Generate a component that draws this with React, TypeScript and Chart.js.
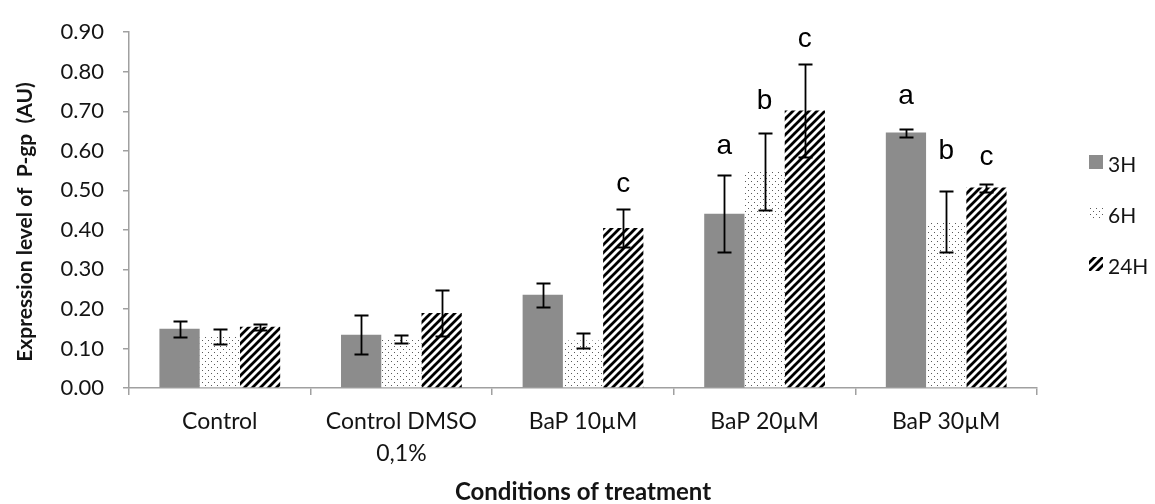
import { useEffect, useRef } from 'react';
import { Chart, registerables } from 'chart.js';
Chart.register(...registerables);

const categories: (string | string[])[] = ['Control', ['Control DMSO', '0,1%'], 'BaP 10µM', 'BaP 20µM', 'BaP 30µM'];
const seriesNames = ['3H', '6H', '24H'];
const values3H = [0.15, 0.135, 0.236, 0.441, 0.646];
const values6H = [0.13, 0.124, 0.12, 0.548, 0.421];
const values24H = [0.155, 0.19, 0.405, 0.702, 0.507];
const err3H = [0.02, 0.049, 0.03, 0.097, 0.01];
const err6H = [0.019, 0.011, 0.02, 0.098, 0.077];
const err24H = [0.008, 0.058, 0.049, 0.117, 0.01];
const letters3H = ['', '', '', 'a', 'a'];
const letters6H = ['', '', '', 'b', 'b'];
const letters24H = ['', '', 'c', 'c', 'c'];
const letterLevel3H = [0, 0, 0, 0.592, 0.719];
const letterLevel6H = [0, 0, 0, 0.706, 0.58];
const letterLevel24H = [0, 0, 0.497, 0.862, 0.563];
const yTicks = [0, 0.1, 0.2, 0.3, 0.4, 0.5, 0.6, 0.7, 0.8, 0.9];
const yTitle = 'Expression level of  P-gp  (AU)';
const xTitle = 'Conditions of treatment';

const allValues = [values3H, values6H, values24H];
const allErrs = [err3H, err6H, err24H];
const allLetters = [letters3H, letters6H, letters24H];
const allLetterLevels = [letterLevel3H, letterLevel6H, letterLevel24H];

function makeDots(ctx: CanvasRenderingContext2D) {
  const c = document.createElement('canvas');
  c.width = 6; c.height = 6;
  const x = c.getContext('2d')!;
  x.fillStyle = '#ffffff';
  x.fillRect(0, 0, 6, 6);
  x.fillStyle = '#5a5a5a';
  x.fillRect(1, 1, 1, 1);
  x.fillRect(4, 4, 1, 1);
  return ctx.createPattern(c, 'repeat')!;
}

function makeHatch(ctx: CanvasRenderingContext2D) {
  const s = 8;
  const c = document.createElement('canvas');
  c.width = s; c.height = s;
  const x = c.getContext('2d')!;
  x.fillStyle = '#ffffff';
  x.fillRect(0, 0, s, s);
  x.strokeStyle = '#000000';
  x.lineWidth = 2.8;
  x.lineCap = 'square';
  x.beginPath();
  x.moveTo(-1, s + 1); x.lineTo(s + 1, -1);
  x.moveTo(-1, 1); x.lineTo(1, -1);
  x.moveTo(s - 1, s + 1); x.lineTo(s + 1, s - 1);
  x.stroke();
  return ctx.createPattern(c, 'repeat')!;
}

export default function App() {
  const ref = useRef<HTMLCanvasElement>(null);
  useEffect(() => {
    document.body.style.margin = '0';
    const canvas = ref.current!;
    const ctx = canvas.getContext('2d')!;
    const fills: (string | CanvasPattern)[] = ['#8c8c8c', makeDots(ctx), makeHatch(ctx)];
    const axisColor = '#a0a0a0';
    const textColor = '#141414';

    const overlay = {
      id: 'overlay',
      afterDatasetsDraw(chart: any) {
        const c = chart.ctx as CanvasRenderingContext2D;
        const y = chart.scales.y;
        c.save();
        c.strokeStyle = '#000';
        c.lineWidth = 1.8;
        for (let i = 0; i < allValues.length; i++) {
          const meta = chart.getDatasetMeta(i);
          meta.data.forEach((bar: any, j: number) => {
            const v = allValues[i][j];
            const e = allErrs[i][j];
            const t = Math.round(y.getPixelForValue(v + e)) + 0.5;
            const b = Math.round(y.getPixelForValue(v - e)) + 0.5;
            const x = Math.round(bar.x) + 0.5;
            c.beginPath();
            c.moveTo(x, t); c.lineTo(x, b);
            c.moveTo(x - 7, t); c.lineTo(x + 7, t);
            c.moveTo(x - 7, b); c.lineTo(x + 7, b);
            c.stroke();
            const L = allLetters[i][j];
            if (L) {
              c.fillStyle = '#000';
              c.font = '28px "Liberation Sans", Arial, sans-serif';
              c.textAlign = 'center';
              c.textBaseline = 'alphabetic';
              c.fillText(L, bar.x, y.getPixelForValue(allLetterLevels[i][j]));
            }
          });
        }
        c.restore();
      },
      afterDraw(chart: any) {
        const c = chart.ctx as CanvasRenderingContext2D;
        c.save();
        c.fillStyle = textColor;
        c.font = 'bold 21px Lato, sans-serif';
        c.textAlign = 'center';
        c.textBaseline = 'middle';
        c.save();
        c.translate(25, 222);
        c.rotate(-Math.PI / 2);
        c.fillText(yTitle, 0, 0);
        c.restore();
        c.font = 'bold 24px Lato, sans-serif';
        c.fillText(xTitle, (chart.chartArea.left + chart.chartArea.right) / 2, 492);
        c.textAlign = 'left';
        c.font = '21px Lato, sans-serif';
        seriesNames.forEach((name, k) => {
          const top = 155 + k * 51;
          c.fillStyle = fills[k] as any;
          c.fillRect(1089, top, 14, 14);
          c.fillStyle = textColor;
          c.fillText(name, 1108, top + 10);
        });
        c.restore();
      },
    };

    const chart = new Chart(canvas, {
      type: 'bar',
      data: {
        labels: categories as any,
        datasets: seriesNames.map((name, k) => ({
          label: name,
          data: allValues[k],
          backgroundColor: fills[k] as any,
          borderWidth: 0,
          categoryPercentage: 0.665,
          barPercentage: 1,
        })),
      },
      options: {
        responsive: false,
        animation: false,
        devicePixelRatio: 1,
        layout: { padding: { left: 0, top: 18, right: 118, bottom: 0 } },
        plugins: { legend: { display: false }, tooltip: { enabled: false } },
        scales: {
          x: {
            offset: true,
            afterFit: (s: any) => { s.height = 116; },
            grid: { offset: true, drawOnChartArea: false, drawTicks: true, tickLength: 7, color: axisColor, lineWidth: 1.5 },
            border: { display: true, color: axisColor, width: 1.5 },
            ticks: { color: textColor, padding: 10, maxRotation: 0, autoSkip: false, font: { family: 'Lato', size: 23, lineHeight: 1.4 } },
          },
          y: {
            min: 0,
            max: 0.9,
            afterFit: (s: any) => { s.width = 129; },
            afterBuildTicks: (s: any) => { s.ticks = yTicks.map((v) => ({ value: v })); },
            grid: { drawOnChartArea: false, drawTicks: true, tickLength: 6, color: axisColor, lineWidth: 1.5 },
            border: { display: true, color: axisColor, width: 1.5 },
            ticks: { color: textColor, padding: 19, font: { family: 'Lato', size: 22 }, callback: (v: any) => Number(v).toFixed(2) },
          },
        },
      },
      plugins: [overlay],
    });
    return () => chart.destroy();
  }, []);
  return <canvas ref={ref} width={1155} height={504} style={{ display: 'block', width: 1155, height: 504 }} />;
}
